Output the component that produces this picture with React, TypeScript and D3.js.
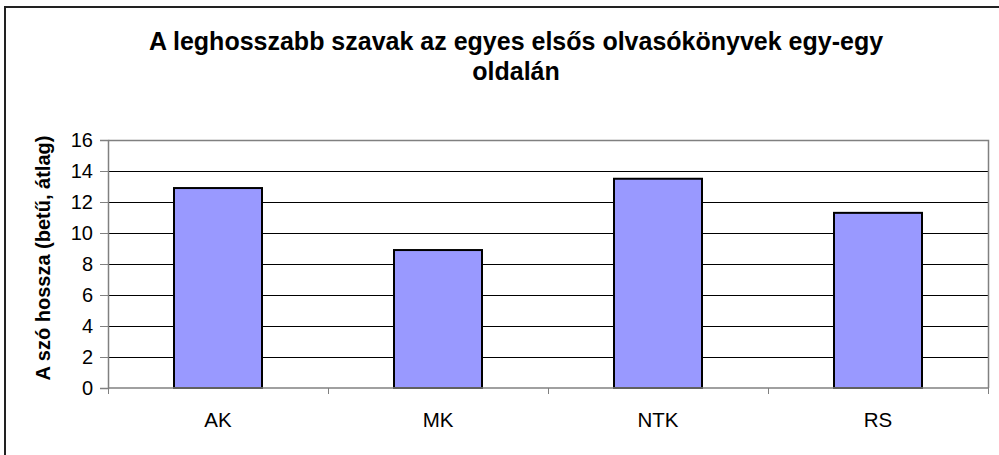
import React, { useEffect, useRef } from "react";
import * as d3 from "d3";

const categories = ["AK", "MK", "NTK", "RS"];
const values = [12.9, 8.9, 13.5, 11.3];
const yTicks = [0, 2, 4, 6, 8, 10, 12, 14, 16];
const titleLines = [
	"A leghosszabb szavak az egyes elsős olvasókönyvek egy-egy",
	"oldalán",
];
const yLabel = "A szó hossza (betű, átlag)";

const W = 999;
const H = 455;

const App: React.FC = () => {
	const svgRef = useRef<SVGSVGElement | null>(null);

	useEffect(() => {
		const svg = d3.select(svgRef.current);
		svg.selectAll("*").remove();

		const font = "'Liberation Sans', Arial, sans-serif";
		const margin = { top: 140, right: 11, bottom: 67, left: 108 };
		const width = W - margin.left - margin.right;
		const height = H - margin.top - margin.bottom;

		svg.append("rect")
			.attr("width", W)
			.attr("height", H)
			.attr("fill", "white");

		// outer chart border (right/bottom run off the picture)
		svg.append("rect")
			.attr("x", 5)
			.attr("y", 7)
			.attr("width", W + 10)
			.attr("height", H + 10)
			.attr("fill", "none")
			.attr("stroke", "#222")
			.attr("stroke-width", 2);

		const x = d3
			.scaleBand()
			.domain(categories)
			.range([0, width])
			.paddingInner(0.6)
			.paddingOuter(0.3);

		const xb = d3.scaleBand().domain(categories).range([0, width]);

		const y = d3.scaleLinear().domain([0, 16]).range([height, 0]);

		const g = svg
			.append("g")
			.attr("transform", `translate(${margin.left},${margin.top})`);

		// gridlines
		g.selectAll(".grid")
			.data(yTicks.filter((t) => t > 0 && t < 16))
			.enter()
			.append("line")
			.attr("x1", 0)
			.attr("x2", width)
			.attr("y1", (d) => Math.round(y(d)) + 0.5)
			.attr("y2", (d) => Math.round(y(d)) + 0.5)
			.attr("stroke", "black")
			.attr("stroke-width", 1);

		// plot frame top/right
		g.append("path")
			.attr("d", `M0.5,0.5H${width + 0.5}V${height}`)
			.attr("fill", "none")
			.attr("stroke", "#808080")
			.attr("stroke-width", 1.5);

		g.selectAll(".bar")
			.data(values)
			.enter()
			.append("rect")
			.attr("class", "bar")
			.attr("x", (_, i) => x(categories[i])!)
			.attr("y", (d) => y(d))
			.attr("width", x.bandwidth())
			.attr("height", (d) => height - y(d))
			.attr("fill", "#9999ff")
			.attr("stroke", "black")
			.attr("stroke-width", 2);

		// y axis
		const yAxis = g
			.append("g")
			.call(d3.axisLeft(y).tickValues(yTicks).tickSize(8).tickPadding(7));
		yAxis.select(".domain").attr("stroke", "#808080").attr("stroke-width", 1.5);
		yAxis.selectAll(".tick line").attr("stroke", "#808080");
		yAxis
			.selectAll("text")
			.attr("font-family", font)
			.attr("font-size", 20)
			.attr("fill", "black");

		// x axis
		const xAxis = g.append("g").attr("transform", `translate(0,${height})`);
		xAxis
			.append("line")
			.attr("x1", 0)
			.attr("x2", width)
			.attr("stroke", "#808080")
			.attr("stroke-width", 1.5);
		xAxis
			.selectAll(".xt")
			.data(categories.concat(["end"]))
			.enter()
			.append("line")
			.attr("x1", (_, i) => Math.round(i * xb.bandwidth()) + 0.5)
			.attr("x2", (_, i) => Math.round(i * xb.bandwidth()) + 0.5)
			.attr("y1", 0)
			.attr("y2", 6)
			.attr("stroke", "#808080");
		xAxis
			.selectAll(".xl")
			.data(categories)
			.enter()
			.append("text")
			.attr("x", (d) => xb(d)! + xb.bandwidth() / 2)
			.attr("y", 39)
			.attr("text-anchor", "middle")
			.attr("font-family", font)
			.attr("font-size", 20.5)
			.text((d) => d);

		// title
		svg.selectAll(".title")
			.data(titleLines)
			.enter()
			.append("text")
			.attr("x", 516)
			.attr("y", (_, i) => 50 + i * 30)
			.attr("text-anchor", "middle")
			.attr("font-family", font)
			.attr("font-size", 25)
			.attr("font-weight", "bold")
			.text((d) => d);

		// y label
		svg.append("text")
			.attr("transform", `translate(50,${margin.top + height / 2 - 6}) rotate(-90)`)
			.attr("text-anchor", "middle")
			.attr("font-family", font)
			.attr("font-size", 20)
			.attr("font-weight", "bold")
			.text(yLabel);
	}, []);

	return (
		<svg
			ref={svgRef}
			width={W}
			height={H}
			style={{ position: "absolute", left: 0, top: 0 }}
		></svg>
	);
};

export default App;
